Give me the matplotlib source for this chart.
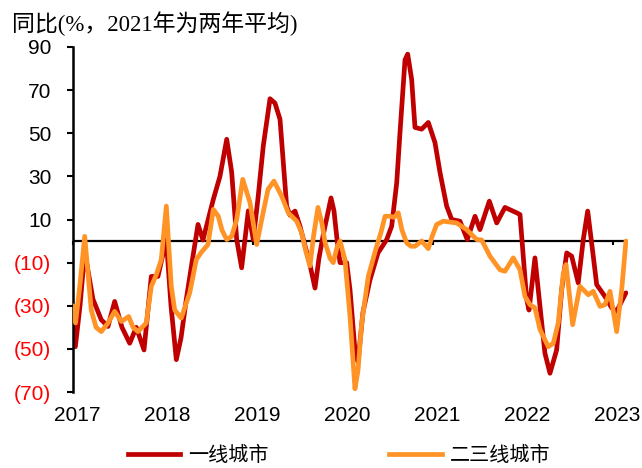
import matplotlib
matplotlib.use("Agg")
import matplotlib.pyplot as plt
from matplotlib.ticker import FuncFormatter, FixedLocator
from matplotlib.lines import Line2D

# ---------------- data ----------------
title_text = "同比(%，2021年为两年平均)"
series_names = ["一线城市", "二三线城市"]
year_labels = ["2017", "2018", "2019", "2020", "2021", "2022", "2023"]
year_positions = [2017, 2018, 2019, 2020, 2021, 2022, 2023]
y_ticks = [-70, -50, -30, -10, 10, 30, 50, 70, 90]

tier1_dates = [
    2017.000, 2017.026, 2017.078, 2017.130, 2017.222, 2017.314, 2017.389, 2017.463,
    2017.544, 2017.630, 2017.703, 2017.789, 2017.870, 2017.944, 2018.037, 2018.089,
    2018.148, 2018.200, 2018.259, 2018.322, 2018.389, 2018.444, 2018.559, 2018.633,
    2018.708, 2018.763, 2018.819, 2018.874, 2018.948, 2019.003, 2019.056, 2019.114,
    2019.189, 2019.244, 2019.300, 2019.374, 2019.411, 2019.467, 2019.522, 2019.633,
    2019.689, 2019.733, 2019.781, 2019.867, 2019.900, 2019.930, 2019.967, 2020.041,
    2020.078, 2020.133, 2020.167, 2020.222, 2020.300, 2020.389, 2020.486, 2020.541,
    2020.597, 2020.633, 2020.689, 2020.719, 2020.763, 2020.800, 2020.874, 2020.948,
    2021.022, 2021.078, 2021.152, 2021.208, 2021.300, 2021.381, 2021.467, 2021.522,
    2021.626, 2021.708, 2021.800, 2021.930, 2021.967, 2022.003, 2022.041, 2022.067,
    2022.100, 2022.133, 2022.189, 2022.244, 2022.300, 2022.374, 2022.430, 2022.486,
    2022.541, 2022.614, 2022.670, 2022.719, 2022.781, 2022.819, 2022.911, 2022.986,
    2023.041, 2023.144,
]
tier1_values = [
    -35, -49, -30, -5, -27, -36.5, -39.6, -28,
    -40, -47.4, -40, -50.5, -16.4, -16.4, 0.7, -30,
    -55, -45, -27, -10, 7.7, 0.5, 19.3, 30,
    47.2, 32, 0.7, -12.4, 14, 0.7, 20, 44,
    66, 64, 56.5, 16.2, 12, 13.9, 6.9, -11,
    -21.8, -8, 3, 20, 14, 2.2, -10, -10,
    -22.6, -50.5, -56, -33, -18, -5.5, 0.7, 6.9,
    27, 50, 84, 86.7, 75, 52.7, 51.9, 55,
    45.7, 31.8, 16.2, 10, 9.2, 0.7, 11.5, 5.3,
    18.5, 8.4, 15.6, 13.1, 12.3, -7, -27, -32,
    -20, -7.8, -30.3, -52, -61.3, -50.5, -22.6, -5.5,
    -7, -19.4, 0.7, 13.9, -7, -20.2, -25.7, -31,
    -32.6, -24,
]

tier23_dates = [
    2017.000, 2017.028, 2017.078, 2017.130, 2017.167, 2017.203, 2017.256, 2017.314,
    2017.389, 2017.463, 2017.537, 2017.619, 2017.667, 2017.722, 2017.814, 2017.870,
    2017.926, 2017.981, 2018.037, 2018.092, 2018.130, 2018.203, 2018.297, 2018.370,
    2018.426, 2018.500, 2018.559, 2018.614, 2018.656, 2018.708, 2018.763, 2018.819,
    2018.886, 2018.967, 2019.041, 2019.097, 2019.167, 2019.233, 2019.319, 2019.392,
    2019.486, 2019.541, 2019.589, 2019.633, 2019.670, 2019.722, 2019.767, 2019.800,
    2019.856, 2019.892, 2019.933, 2019.967, 2020.022, 2020.078, 2020.133, 2020.167,
    2020.208, 2020.281, 2020.374, 2020.422, 2020.467, 2020.522, 2020.567, 2020.614,
    2020.656, 2020.708, 2020.756, 2020.800, 2020.874, 2020.948, 2020.989, 2021.041,
    2021.114, 2021.263, 2021.374, 2021.486, 2021.541, 2021.633, 2021.744, 2021.800,
    2021.892, 2021.967, 2022.022, 2022.078, 2022.133, 2022.189, 2022.281, 2022.337,
    2022.392, 2022.448, 2022.478, 2022.522, 2022.552, 2022.597, 2022.633, 2022.726,
    2022.781, 2022.856, 2022.911, 2022.967, 2023.041, 2023.097, 2023.144,
]
tier23_values = [
    -30, -38, -20, 2.2, -15, -32, -40, -42,
    -38, -32.6, -37.3, -35, -40, -42, -38, -21,
    -15.6, -8.6, 16.2, -21, -32, -35.7, -24, -8.6,
    -5.2, -1.6, 14.7, 11.5, 5, 0.7, 2.2, 10,
    28.6, 17.8, -1.6, 10, 24, 27.8, 20.8, 13.1,
    9.2, 3.8, -5, -11.5, 1.5, 15.6, 8, -0.5,
    -8, -10, -3, 0, -8.6, -35, -68.5, -60,
    -38, -16.4, -2.4, 4, 11.5, 11.5, 11, 13.1,
    5, -0.9, -2.4, -2.4, 0, -3.5, 2, 7.7,
    9.2, 8.4, 5.3, 0.7, 0.5, -7, -13.3, -14,
    -7.8, -13.3, -25.7, -29.5, -31, -41, -49, -47.4,
    -38, -14.8, -10.9, -27, -38.8, -28.7, -21, -24.9,
    -23.3, -30.3, -29.5, -23.3, -42, -22.6, 0,
]

# ---------------- style ----------------
RED = "#C00000"
ORANGE = "#FF9326"
NEG_RED = "#FF0000"
LW = 3.4
CJK = ["Noto Sans CJK SC", "DejaVu Sans"]
SANS = "Liberation Sans"

fig = plt.figure(figsize=(6.42, 4.68), dpi=100)
ax = fig.add_axes([73 / 642, 1 - 392 / 468, (628 - 73) / 642, (392 - 47) / 468])

ax.axhline(0, color="black", lw=1.6, zorder=1)
ax.plot(tier1_dates, tier1_values, color=RED, lw=LW, solid_joinstyle="round",
        solid_capstyle="round", zorder=2, label=series_names[0])
ax.plot(tier23_dates, tier23_values, color=ORANGE, lw=LW, solid_joinstyle="round",
        solid_capstyle="round", zorder=3, label=series_names[1])

ax.set_xlim(2017.0, 2023.167)
ax.set_ylim(-70, 90)

for s in ["top", "right", "bottom"]:
    ax.spines[s].set_visible(False)
ax.spines["left"].set_linewidth(1.8)

ax.set_yticks(y_ticks)
ax.yaxis.set_major_formatter(FuncFormatter(
    lambda v, p: f"({abs(v):.0f})" if v < 0 else f"{v:.0f}"))
ax.tick_params(axis="y", direction="out", length=4.5, width=1.5, pad=11,
               labelsize=15)
for lab in ax.get_yticklabels():
    lab.set_fontfamily(SANS)
for lab, v in zip(ax.get_yticklabels(), y_ticks):
    lab.set_color(NEG_RED if v < 0 else "black")

# year labels below the plot
ax.set_xticks([p + 0.045 for p in year_positions])
ax.set_xticklabels(year_labels, fontsize=15, fontfamily=SANS)
ax.tick_params(axis="x", length=0, pad=10)

# small tick marks on the zero line every two years
sec = ax.secondary_xaxis(70 / 160)
sec.spines["bottom"].set_visible(False)
sec.xaxis.set_major_locator(FixedLocator(year_positions[::2]))
sec.tick_params(axis="x", direction="out", length=3, width=1.5, labelbottom=False)

fig.text(12 / 642, 1 - 24 / 468, title_text, ha="left", va="center",
         fontsize=16.5, family=["Liberation Serif", "Noto Sans CJK SC"])

handles = [Line2D([], [], color=RED, lw=LW), Line2D([], [], color=ORANGE, lw=LW)]
fig.legend(handles, series_names, loc="center", bbox_to_anchor=(0.528, 0.026),
           ncol=2, frameon=False, handlelength=2.6, handletextpad=0.4,
           columnspacing=6.0, prop={"family": CJK, "size": 14.5})

fig.savefig("out.png", dpi=100)
